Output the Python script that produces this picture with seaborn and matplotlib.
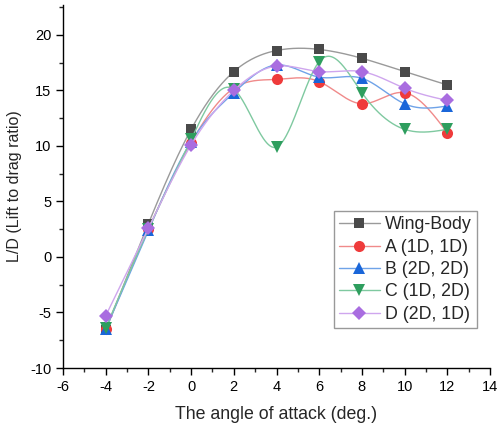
import numpy as np
import pandas as pd
import matplotlib
matplotlib.use("Agg")
import matplotlib.pyplot as plt
import seaborn as sns
from matplotlib.ticker import MultipleLocator
from matplotlib.lines import Line2D

aoa = [-4, -2, 0, 2, 4, 6, 8, 10, 12]
wing_body = [-6.6, 3.0, 11.5, 16.7, 18.6, 18.7, 17.9, 16.7, 15.5]
a_1d1d = [-6.5, 2.5, 10.3, 15.2, 16.0, 15.8, 13.8, 14.8, 11.2]
b_2d2d = [-6.5, 2.4, 10.4, 14.8, 17.3, 16.2, 16.1, 13.8, 13.6]
c_1d2d = [-6.4, 2.5, 10.6, 15.1, 9.9, 17.6, 14.8, 11.5, 11.5]
d_2d1d = [-5.3, 2.6, 10.1, 15.0, 17.2, 16.7, 16.7, 15.2, 14.1]

series_names = ["Wing-Body", "A (1D, 1D)", "B (2D, 2D)", "C (1D, 2D)", "D (2D, 1D)"]
series_vals = [wing_body, a_1d1d, b_2d2d, c_1d2d, d_2d1d]
marker_colors = ["#4a4a4a", "#ef3b3b", "#1a66d9", "#2e9e5e", "#a96de0"]
line_colors = ["#9a9a9a", "#f08a8a", "#6fa3e8", "#7fc9a0", "#cfa6ee"]
markers = ["s", "o", "^", "v", "D"]
msizes = [7, 8, 8, 8, 7]


def natural_spline(x, y, n=400):
    x = np.asarray(x, float); y = np.asarray(y, float)
    k = len(x); h = np.diff(x)
    A = np.zeros((k, k)); r = np.zeros(k)
    A[0, 0] = A[-1, -1] = 1
    for i in range(1, k - 1):
        A[i, i - 1] = h[i - 1]; A[i, i] = 2 * (h[i - 1] + h[i]); A[i, i + 1] = h[i]
        r[i] = 6 * ((y[i + 1] - y[i]) / h[i] - (y[i] - y[i - 1]) / h[i - 1])
    M = np.linalg.solve(A, r)
    xs = np.linspace(x[0], x[-1], n)
    idx = np.clip(np.searchsorted(x, xs) - 1, 0, k - 2)
    x0, x1 = x[idx], x[idx + 1]; hh = x1 - x0
    t0 = x1 - xs; t1 = xs - x0
    ys = (M[idx] * t0**3 / (6 * hh) + M[idx + 1] * t1**3 / (6 * hh)
          + (y[idx] / hh - M[idx] * hh / 6) * t0 + (y[idx + 1] / hh - M[idx + 1] * hh / 6) * t1)
    return xs, ys


sns.set_theme(style="ticks")
plt.rcParams["font.family"] = ["Liberation Sans", "DejaVu Sans"]
plt.rcParams["axes.unicode_minus"] = False

fig = plt.figure(figsize=(5.0, 4.29), dpi=100)
ax = fig.add_axes([63 / 500, 1 - 368 / 429, (490 - 63) / 500, (368 - 5) / 429])

handles = []
for name, vals, mc, lc, mk, ms in zip(series_names, series_vals, marker_colors, line_colors, markers, msizes):
    xs, ys = natural_spline(aoa, vals)
    sns.lineplot(x=xs, y=ys, ax=ax, color=lc, linewidth=1.0, sort=False, estimator=None)
    df = pd.DataFrame({"x": aoa, "y": vals})
    ax.plot(df["x"], df["y"], linestyle="none", marker=mk, markersize=ms, color=mc, markeredgewidth=0)
    handles.append(Line2D([], [], color=lc, linewidth=1.0, marker=mk, markersize=ms,
                          markerfacecolor=mc, markeredgewidth=0, label=name))

ax.set_xlim(-6, 14)
ax.set_ylim(-10, 22.7)
ax.xaxis.set_major_locator(MultipleLocator(2))
ax.xaxis.set_minor_locator(MultipleLocator(1))
ax.yaxis.set_major_locator(MultipleLocator(5))
ax.yaxis.set_minor_locator(MultipleLocator(2.5))
ax.set_yticks(np.arange(-10, 21, 5))
ax.tick_params(which="major", direction="out", length=5, width=1, labelsize=10.5, colors="black")
ax.tick_params(which="minor", direction="out", length=3, width=1)
for s in ["top", "right"]:
    ax.spines[s].set_visible(False)
for s in ["left", "bottom"]:
    ax.spines[s].set_color("black")
    ax.spines[s].set_linewidth(1.0)

ax.set_xlabel("The angle of attack (deg.)", fontsize=12.8, labelpad=9)
ax.set_ylabel("L/D (Lift to drag ratio)", fontsize=11.5, labelpad=6)

leg = ax.legend(handles=handles, loc="lower right", bbox_to_anchor=(0.97, 0.11),
                fontsize=12.8, frameon=True, fancybox=False, edgecolor="#808080",
                handlelength=2.3, handletextpad=0.3, borderpad=0.3, labelspacing=0.3,
                borderaxespad=0)
leg.get_frame().set_linewidth(1.0)

fig.savefig("out.png", dpi=100)
